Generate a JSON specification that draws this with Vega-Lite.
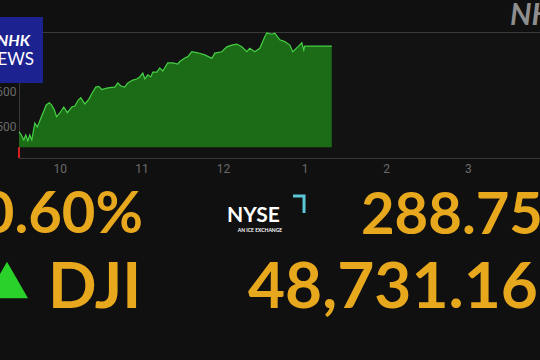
{
  "$schema": "https://vega.github.io/schema/vega-lite/v6.json",
  "autosize": {"type": "none"},
  "width": 521,
  "height": 126,
  "padding": {"left": 19, "top": 32, "right": 0, "bottom": 202},
  "background": "#101010",
  "config": {
    "view": {"stroke": "#3a3a3a", "strokeWidth": 1, "fill": "#121212"},
    "axis": {"domain": false, "ticks": false, "grid": false, "labelFont": "Roboto", "labelFontSize": 12, "labelColor": "#6a6a6a"},
    "axisX": {"labelPadding": 5},
    "axisY": {"labelPadding": 3, "labelExpr": "format(datum.value, ',')"}
  },
  "datasets": {
    "dji": [
      {"t": 9.500, "v": 48486}, {"t": 9.522, "v": 48480}, {"t": 9.559, "v": 48463}, {"t": 9.583, "v": 48477},
      {"t": 9.608, "v": 48460}, {"t": 9.632, "v": 48477}, {"t": 9.657, "v": 48463}, {"t": 9.694, "v": 48511},
      {"t": 9.724, "v": 48500}, {"t": 9.775, "v": 48529}, {"t": 9.834, "v": 48563}, {"t": 9.871, "v": 48569},
      {"t": 9.898, "v": 48563}, {"t": 9.933, "v": 48549}, {"t": 9.960, "v": 48529}, {"t": 10.000, "v": 48540},
      {"t": 10.049, "v": 48557}, {"t": 10.092, "v": 48541}, {"t": 10.147, "v": 48557}, {"t": 10.184, "v": 48560},
      {"t": 10.227, "v": 48577}, {"t": 10.257, "v": 48584}, {"t": 10.306, "v": 48566}, {"t": 10.355, "v": 48579},
      {"t": 10.404, "v": 48600}, {"t": 10.441, "v": 48614}, {"t": 10.478, "v": 48616}, {"t": 10.515, "v": 48607},
      {"t": 10.576, "v": 48611}, {"t": 10.637, "v": 48613}, {"t": 10.674, "v": 48614}, {"t": 10.711, "v": 48626},
      {"t": 10.748, "v": 48617}, {"t": 10.797, "v": 48614}, {"t": 10.833, "v": 48626}, {"t": 10.895, "v": 48634},
      {"t": 10.943, "v": 48637}, {"t": 10.980, "v": 48643}, {"t": 11.017, "v": 48654}, {"t": 11.042, "v": 48637},
      {"t": 11.078, "v": 48649}, {"t": 11.115, "v": 48643}, {"t": 11.140, "v": 48657}, {"t": 11.189, "v": 48657},
      {"t": 11.225, "v": 48669}, {"t": 11.262, "v": 48660}, {"t": 11.299, "v": 48674}, {"t": 11.324, "v": 48683},
      {"t": 11.385, "v": 48683}, {"t": 11.446, "v": 48680}, {"t": 11.471, "v": 48687}, {"t": 11.532, "v": 48697},
      {"t": 11.569, "v": 48701}, {"t": 11.618, "v": 48715}, {"t": 11.691, "v": 48712}, {"t": 11.777, "v": 48706},
      {"t": 11.863, "v": 48696}, {"t": 11.900, "v": 48711}, {"t": 11.985, "v": 48715}, {"t": 12.047, "v": 48729},
      {"t": 12.108, "v": 48734}, {"t": 12.169, "v": 48737}, {"t": 12.230, "v": 48729}, {"t": 12.292, "v": 48715},
      {"t": 12.328, "v": 48725}, {"t": 12.390, "v": 48715}, {"t": 12.451, "v": 48725}, {"t": 12.512, "v": 48758},
      {"t": 12.537, "v": 48769}, {"t": 12.598, "v": 48765}, {"t": 12.635, "v": 48768}, {"t": 12.696, "v": 48749},
      {"t": 12.757, "v": 48744}, {"t": 12.819, "v": 48734}, {"t": 12.855, "v": 48715}, {"t": 12.917, "v": 48729},
      {"t": 12.966, "v": 48741}, {"t": 12.990, "v": 48720}, {"t": 13.002, "v": 48731.16}, {"t": 13.333, "v": 48731.16}
    ],
    "dip": [{"t": 9.5, "lo": 48411.4, "hi": 48442.41}],
    "logo": [{"t1": 9.255, "t2": 9.794, "v1": 48814.3, "v2": 48625.7}],
    "logoNHK": [{"t": 9.635, "v": 48730, "text": "NHK"}],
    "logoNEWS": [{"t": 9.684, "v": 48677.1, "text": "NEWS"}],
    "mark": [{"t": 15.517, "v": 48791.4, "text": "NHK"}],
    "pct": [{"t": 11.020, "v": 48197.1, "text": "0.60%"}],
    "chg": [{"t": 13.691, "v": 48194.3, "text": "288.75"}],
    "big": [{"t": 9.855, "v": 47982.9, "text": "DJI"}, {"t": 12.306, "v": 47982.9, "text": "48,731.16"}],
    "arrow": [{"t": 9.353, "v": 48062.9}],
    "nyse": [{"t": 12.049, "v": 48228.6, "text": "NYSE"}],
    "ice": [{"t": 12.453, "v": 48200, "text": "AN ICE EXCHANGE"}],
    "bracket": [{"t": 12.858, "v": 48302.9, "o": 1}, {"t": 12.993, "v": 48302.9, "o": 2}, {"t": 12.993, "v": 48254.3, "o": 3}]
  },
  "layer": [
    {
      "data": {"name": "dji"},
      "mark": {"type": "area", "color": "#1c6b17", "opacity": 1, "line": {"color": "#45d045", "strokeWidth": 1.2}},
      "encoding": {
        "x": {"field": "t", "type": "quantitative", "title": null,
              "scale": {"domain": [9.5, 15.885], "nice": false, "zero": false},
              "axis": {"values": [10, 11, 12, 13, 14, 15], "labelExpr": "'' + (datum.value > 12 ? datum.value - 12 : datum.value)"}},
        "y": {"field": "v", "type": "quantitative", "title": null,
              "scale": {"domain": [48411.4, 48771.4], "nice": false, "zero": false},
              "axis": {"values": [48500, 48600], "labelExpr": "format(datum.value, ',')"}},
        "y2": {"datum": 48442.41}
      }
    },
    {
      "data": {"name": "dip"},
      "mark": {"type": "rule", "color": "#d42020", "strokeWidth": 2},
      "encoding": {
        "x": {"field": "t", "type": "quantitative", "title": null},
        "y": {"field": "lo", "type": "quantitative", "title": null},
        "y2": {"field": "hi"}
      }
    },
    {
      "data": {"name": "logo"},
      "mark": {"type": "rect", "color": "#1c2290"},
      "encoding": {
        "x": {"field": "t1", "type": "quantitative", "title": null},
        "x2": {"field": "t2"},
        "y": {"field": "v1", "type": "quantitative", "title": null},
        "y2": {"field": "v2"}
      }
    },
    {
      "data": {"name": "logoNHK"},
      "mark": {"type": "text", "align": "right", "baseline": "alphabetic", "font": "Lato", "fontSize": 16, "fontWeight": "bold", "fontStyle": "italic", "color": "#ffffff"},
      "encoding": {
        "x": {"field": "t", "type": "quantitative", "title": null},
        "y": {"field": "v", "type": "quantitative", "title": null},
        "text": {"field": "text"}
      }
    },
    {
      "data": {"name": "logoNEWS"},
      "mark": {"type": "text", "align": "right", "baseline": "alphabetic", "font": "Lato", "fontSize": 17, "color": "#ffffff"},
      "encoding": {
        "x": {"field": "t", "type": "quantitative", "title": null},
        "y": {"field": "v", "type": "quantitative", "title": null},
        "text": {"field": "text"}
      }
    },
    {
      "data": {"name": "mark"},
      "mark": {"type": "text", "align": "left", "baseline": "alphabetic", "font": "Lato", "fontSize": 30, "fontWeight": "bold", "fontStyle": "italic", "color": "#8e8e8e"},
      "encoding": {
        "x": {"field": "t", "type": "quantitative", "title": null},
        "y": {"field": "v", "type": "quantitative", "title": null},
        "text": {"field": "text"}
      }
    },
    {
      "data": {"name": "pct"},
      "mark": {"type": "text", "align": "right", "baseline": "alphabetic", "font": "Lato", "fontSize": 58, "fontWeight": "bold", "color": "#e8a81e"},
      "encoding": {
        "x": {"field": "t", "type": "quantitative", "title": null},
        "y": {"field": "v", "type": "quantitative", "title": null},
        "text": {"field": "text"}
      }
    },
    {
      "data": {"name": "chg"},
      "mark": {"type": "text", "align": "left", "baseline": "alphabetic", "font": "Lato", "fontSize": 58, "fontWeight": "bold", "color": "#e8a81e"},
      "encoding": {
        "x": {"field": "t", "type": "quantitative", "title": null},
        "y": {"field": "v", "type": "quantitative", "title": null},
        "text": {"field": "text"}
      }
    },
    {
      "data": {"name": "big"},
      "mark": {"type": "text", "align": "left", "baseline": "alphabetic", "font": "Lato", "fontSize": 64, "fontWeight": "bold", "color": "#e8a81e"},
      "encoding": {
        "x": {"field": "t", "type": "quantitative", "title": null},
        "y": {"field": "v", "type": "quantitative", "title": null},
        "text": {"field": "text"}
      }
    },
    {
      "data": {"name": "arrow"},
      "mark": {"type": "point", "shape": "triangle-up", "size": 1764, "filled": true, "opacity": 1, "color": "#2bd12b"},
      "encoding": {
        "x": {"field": "t", "type": "quantitative", "title": null},
        "y": {"field": "v", "type": "quantitative", "title": null}
      }
    },
    {
      "data": {"name": "nyse"},
      "mark": {"type": "text", "align": "left", "baseline": "alphabetic", "font": "Lato", "fontSize": 21, "fontWeight": "bold", "color": "#ffffff"},
      "encoding": {
        "x": {"field": "t", "type": "quantitative", "title": null},
        "y": {"field": "v", "type": "quantitative", "title": null},
        "text": {"field": "text"}
      }
    },
    {
      "data": {"name": "ice"},
      "mark": {"type": "text", "align": "center", "baseline": "alphabetic", "font": "Lato", "fontSize": 5, "fontWeight": "bold", "color": "#ffffff"},
      "encoding": {
        "x": {"field": "t", "type": "quantitative", "title": null},
        "y": {"field": "v", "type": "quantitative", "title": null},
        "text": {"field": "text"}
      }
    },
    {
      "data": {"name": "bracket"},
      "mark": {"type": "line", "color": "#5cc6d6", "strokeWidth": 3},
      "encoding": {
        "x": {"field": "t", "type": "quantitative", "title": null},
        "y": {"field": "v", "type": "quantitative", "title": null},
        "order": {"field": "o"}
      }
    }
  ]
}
